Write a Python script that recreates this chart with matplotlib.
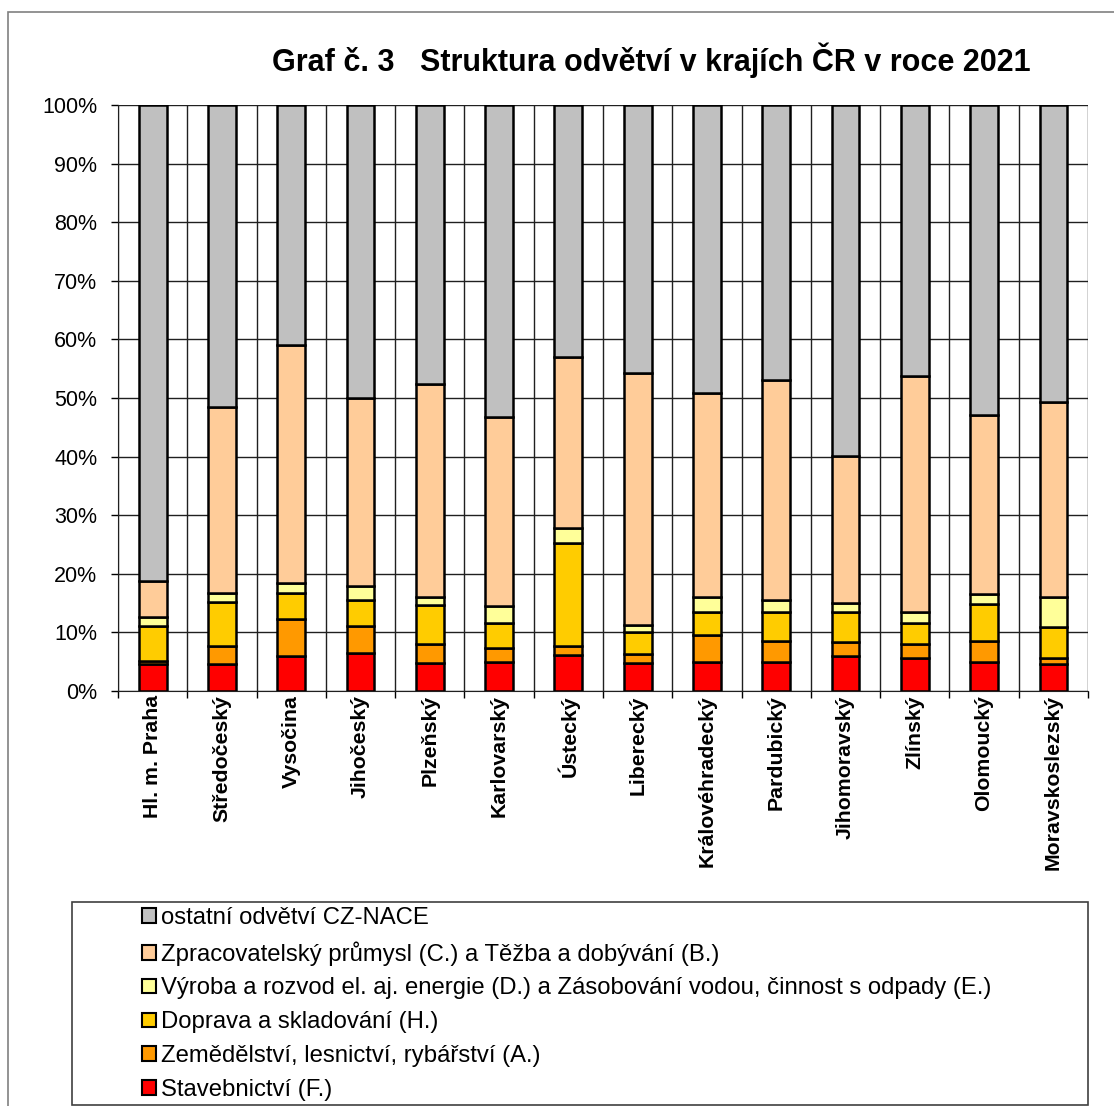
import matplotlib
matplotlib.use('Agg')
import matplotlib.pyplot as plt
from matplotlib.patches import Patch, Rectangle
from matplotlib.ticker import MultipleLocator, PercentFormatter
import numpy as np

plt.rcParams['font.family'] = ['Liberation Sans', 'DejaVu Sans']

# Kraje (categories)
regions = ['Hl. m. Praha', 'Středočeský', 'Vysočina', 'Jihočeský', 'Plzeňský',
           'Karlovarský', 'Ústecký', 'Liberecký', 'Královéhradecký', 'Pardubický',
           'Jihomoravský', 'Zlínský', 'Olomoucký', 'Moravskoslezský']

# shares in %, stacked bottom -> top
stavebnictvi = [4.6, 4.6, 6.0, 6.4, 4.8, 5.0, 6.1, 4.7, 5.0, 5.0, 5.9, 5.7, 5.0, 4.55]
zemedelstvi = [0.6, 3.1, 6.3, 4.7, 3.2, 2.4, 1.6, 1.6, 4.5, 3.6, 2.5, 2.4, 3.5, 1.15]
doprava = [5.9, 7.5, 4.4, 4.5, 6.6, 4.2, 17.5, 3.7, 4.0, 4.9, 5.0, 3.5, 6.4, 5.3]
energie = [1.5, 1.6, 1.7, 2.4, 1.4, 2.9, 2.7, 1.2, 2.6, 2.0, 1.7, 1.9, 1.65, 5.1]
zpracovatelsky = [6.2, 31.7, 40.6, 32.0, 36.4, 32.3, 29.1, 43.1, 34.8, 37.5, 25.0, 40.2, 30.55, 33.15]
ostatni = [81.2, 51.5, 41.0, 50.0, 47.6, 53.2, 43.0, 45.7, 49.1, 47.0, 59.9, 46.3, 52.9, 50.75]

series_labels = ['Stavebnictví (F.)',
                 'Zemědělství, lesnictví, rybářství (A.)',
                 'Doprava a skladování (H.)',
                 'Výroba a rozvod el. aj. energie (D.) a Zásobování vodou, činnost s odpady (E.)',
                 'Zpracovatelský průmysl (C.) a Těžba a dobývání (B.)',
                 'ostatní odvětví CZ-NACE']
series_colors = ['#FF0000', '#FF9900', '#FFCC00', '#FFFF99', '#FFCC99', '#C0C0C0']
series_values = [stavebnictvi, zemedelstvi, doprava, energie, zpracovatelsky, ostatni]

W, H = 1114, 1106
fig = plt.figure(figsize=(W / 100, H / 100), dpi=100)

# outer chart frame
fig.patches.append(Rectangle((8 / W, -0.1), 1.2, 1 - 12 / H + 0.1, transform=fig.transFigure,
                             fill=False, edgecolor='#808080', linewidth=1.2))

ax = fig.add_axes([118 / W, 1 - 691 / H, 970 / W, 586 / H])

x = np.arange(len(regions))
bottom = np.zeros(len(regions))
for vals, col, lab in zip(series_values, series_colors, series_labels):
    ax.bar(x, vals, bottom=bottom, width=0.4, color=col, edgecolor='black',
           linewidth=1.8, label=lab, zorder=3)
    bottom += np.array(vals)

ax.set_xlim(-0.5, len(regions) - 0.5)
ax.set_ylim(0, 100)
ax.yaxis.set_major_locator(MultipleLocator(10))
ax.yaxis.set_major_formatter(PercentFormatter(decimals=0))

# category edges for vertical grid and ticks
ax.set_xticks(np.arange(-0.5, len(regions)), minor=False)
ax.set_xticklabels([])
ax.set_xticks(x, minor=True)
ax.set_xticklabels(regions, minor=True, rotation=90, fontsize=15.3, fontweight='bold')
ax.tick_params(axis='x', which='minor', length=0, pad=3)
ax.tick_params(axis='x', which='major', length=5, width=1, direction='out')
ax.tick_params(axis='y', length=5, width=1, labelsize=15.5, pad=10)

ax.grid(True, which='major', axis='both', color='#202020', linewidth=1, zorder=0)
for side in ['top', 'right']:
    ax.spines[side].set_visible(False)
ax.spines['left'].set_color('#202020')
ax.spines['bottom'].set_color('#202020')

fig.text(651 / W, 1 - 60 / H, 'Graf č. 3   Struktura odvětví v krajích ČR v roce 2021',
         ha='center', va='center', fontsize=22, fontweight='bold')

# legend box
fig.patches.append(Rectangle((72 / W, 1 - 1105 / H), (1088 - 72) / W, (1105 - 902) / H,
                             transform=fig.transFigure, fill=True, facecolor='white',
                             edgecolor='#404040', linewidth=1.2))
handles = [Patch(facecolor=c, edgecolor='black', linewidth=1.5, label=l)
           for c, l in zip(series_colors, series_labels)][::-1]
fig.legend(handles=handles, loc='upper left', bbox_to_anchor=(142 / W, 1 - 907 / H),
           frameon=False, fontsize=17.2, handlelength=0.58, handleheight=0.58,
           handletextpad=0.2, labelspacing=0.5, borderpad=0, borderaxespad=0)

fig.savefig('out.png', dpi=100)
